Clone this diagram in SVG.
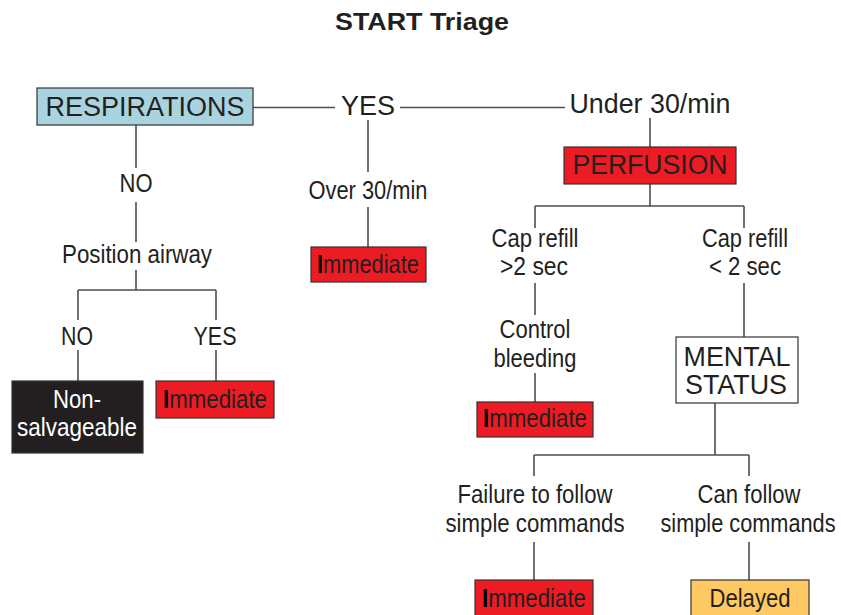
<svg xmlns="http://www.w3.org/2000/svg" width="841" height="615" viewBox="0 0 841 615">
<style>
text{font-family:"Liberation Sans",Arial,sans-serif;fill:#231f20;text-anchor:middle}
.t{font-weight:bold;font-size:24px}
.l{font-size:25px}
.h{font-size:27px}
.w{fill:#fff}
.ib{font-weight:bold;fill:#000}
.c line{stroke:#4d4d4d;stroke-width:1.6}
.box{stroke:#333;stroke-width:1.2}
.red{fill:#ed1c24}
.blue{fill:#a9d4df}
.blk{fill:#231f20}
.wht{fill:#fff}
.yel{fill:#fec962}
</style>
<rect width="841" height="615" fill="#fff"/>
<text class="t" x="422" y="30" textLength="174" lengthAdjust="spacingAndGlyphs">START Triage</text>
<g class="c" id="connectors">
<line x1="253" y1="107.5" x2="335" y2="107.5"/>
<line x1="400" y1="107.5" x2="565" y2="107.5"/>
<line x1="368" y1="120" x2="368" y2="172"/>
<line x1="368" y1="207" x2="368" y2="247"/>
<line x1="136" y1="125" x2="136" y2="168"/>
<line x1="136" y1="202" x2="136" y2="242"/>
<line x1="136" y1="270" x2="136" y2="290"/>
<line x1="78" y1="290" x2="216" y2="290"/>
<line x1="78" y1="290" x2="78" y2="320"/>
<line x1="216" y1="290" x2="216" y2="320"/>
<line x1="78" y1="350" x2="78" y2="381"/>
<line x1="216" y1="350" x2="216" y2="381"/>
<line x1="650" y1="118" x2="650" y2="147"/>
<line x1="650" y1="184" x2="650" y2="206"/>
<line x1="535" y1="206" x2="744" y2="206"/>
<line x1="535" y1="206" x2="535" y2="228"/>
<line x1="744" y1="206" x2="744" y2="228"/>
<line x1="535" y1="283" x2="535" y2="315"/>
<line x1="535" y1="373" x2="535" y2="402"/>
<line x1="744" y1="283" x2="744" y2="337"/>
<line x1="715" y1="403" x2="715" y2="455"/>
<line x1="534" y1="455" x2="749" y2="455"/>
<line x1="534" y1="455" x2="534" y2="476"/>
<line x1="749" y1="455" x2="749" y2="476"/>
<line x1="534" y1="542" x2="534" y2="580"/>
<line x1="749" y1="542" x2="749" y2="580"/>
</g>
<g id="respirations"><rect class="box blue" x="37" y="88" width="216" height="37"/><text class="h" x="145" y="116" textLength="199" lengthAdjust="spacingAndGlyphs">RESPIRATIONS</text></g>
<g id="yes-top"><text class="h" x="368" y="115" textLength="54" lengthAdjust="spacingAndGlyphs">YES</text></g>
<g id="under30"><text class="h" x="650" y="113" textLength="161" lengthAdjust="spacingAndGlyphs">Under 30/min</text></g>
<g id="no-top"><text class="l" x="136" y="192" textLength="33" lengthAdjust="spacingAndGlyphs">NO</text></g>
<g id="over30"><text class="l" x="368" y="199" textLength="119" lengthAdjust="spacingAndGlyphs">Over 30/min</text></g>
<g id="immediate-1"><rect class="box red" x="311" y="247" width="115" height="35"/><text class="l" x="368" y="273" textLength="102" lengthAdjust="spacingAndGlyphs"><tspan class="ib">I</tspan>mmediate</text></g>
<g id="position-airway"><text class="l" x="137" y="263" textLength="150" lengthAdjust="spacingAndGlyphs">Position airway</text></g>
<g id="no-low"><text class="l" x="77" y="345" textLength="32" lengthAdjust="spacingAndGlyphs">NO</text></g>
<g id="yes-low"><text class="l" x="215" y="345" textLength="43" lengthAdjust="spacingAndGlyphs">YES</text></g>
<g id="non-salvageable"><rect class="box blk" x="12" y="381" width="131" height="72"/><text class="l w" x="77" y="408" textLength="48" lengthAdjust="spacingAndGlyphs">Non-</text><text class="l w" x="77" y="436" textLength="120" lengthAdjust="spacingAndGlyphs">salvageable</text></g>
<g id="immediate-2"><rect class="box red" x="156" y="381" width="118" height="37"/><text class="l" x="215" y="408" textLength="104" lengthAdjust="spacingAndGlyphs"><tspan class="ib">I</tspan>mmediate</text></g>
<g id="perfusion"><rect class="box red" x="564" y="147" width="172" height="37"/><text class="h" x="650" y="174" textLength="155" lengthAdjust="spacingAndGlyphs">PERFUSION</text></g>
<g id="cap-gt"><text class="l" x="535" y="247" textLength="87" lengthAdjust="spacingAndGlyphs">Cap refill</text><text class="l" x="534" y="275" textLength="68" lengthAdjust="spacingAndGlyphs">&gt;2 sec</text></g>
<g id="cap-lt"><text class="l" x="745" y="247" textLength="86" lengthAdjust="spacingAndGlyphs">Cap refill</text><text class="l" x="745" y="275" textLength="72" lengthAdjust="spacingAndGlyphs">&lt; 2 sec</text></g>
<g id="control-bleeding"><text class="l" x="535" y="338" textLength="71" lengthAdjust="spacingAndGlyphs">Control</text><text class="l" x="535" y="367" textLength="83" lengthAdjust="spacingAndGlyphs">bleeding</text></g>
<g id="immediate-3"><rect class="box red" x="477" y="402" width="116" height="35"/><text class="l" x="535" y="427" textLength="104" lengthAdjust="spacingAndGlyphs"><tspan class="ib">I</tspan>mmediate</text></g>
<g id="mental-status"><rect class="box wht" x="676" y="337" width="122" height="66"/><text class="h" x="737" y="366" textLength="107" lengthAdjust="spacingAndGlyphs">MENTAL</text><text class="h" x="736" y="394" textLength="102" lengthAdjust="spacingAndGlyphs">STATUS</text></g>
<g id="failure"><text class="l" x="535" y="503" textLength="155" lengthAdjust="spacingAndGlyphs">Failure to follow</text><text class="l" x="535" y="532" textLength="179" lengthAdjust="spacingAndGlyphs">simple commands</text></g>
<g id="can-follow"><text class="l" x="749" y="503" textLength="103" lengthAdjust="spacingAndGlyphs">Can follow</text><text class="l" x="748" y="532" textLength="175" lengthAdjust="spacingAndGlyphs">simple commands</text></g>
<g id="immediate-4"><rect class="box red" x="475" y="580" width="118" height="40"/><text class="l" x="534" y="607" textLength="104" lengthAdjust="spacingAndGlyphs"><tspan class="ib">I</tspan>mmediate</text></g>
<g id="delayed"><rect class="box yel" x="691" y="580" width="118" height="40"/><text class="l" x="750" y="607" textLength="81" lengthAdjust="spacingAndGlyphs">Delayed</text></g>
</svg>
